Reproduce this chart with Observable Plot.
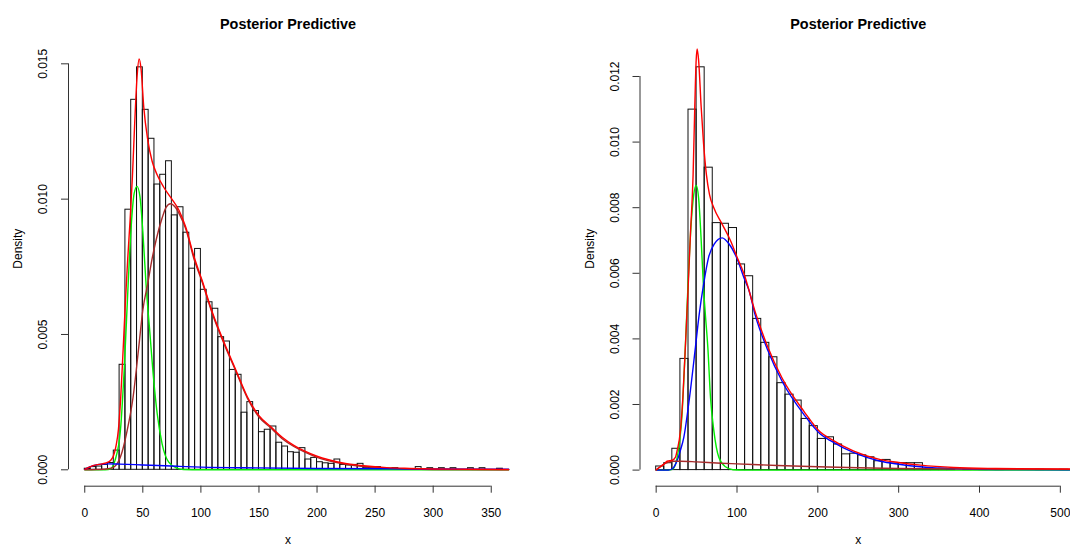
<!DOCTYPE html>
<html>
<head>
<meta charset="utf-8">
<script src="https://cdn.jsdelivr.net/npm/d3@7"></script>
<script src="https://cdn.jsdelivr.net/npm/@observablehq/plot@0.6"></script>
<style>
  html, body { margin: 0; padding: 0; background: #fff; }
  body { width: 1070px; height: 558px; overflow: hidden; display: flex; flex-direction: row; }
  svg { flex: none; }
</style>
</head>
<body>
<script>
// ---------- shared text ----------
const mainTitle = "Posterior Predictive";
const xLabel = "x";
const yLabel = "Density";

// ---------- left panel data ----------
const leftBinWidth = 5;
const leftDensity = [0.00004, 0.0001, 0.00012, 0.00018, 0.00025, 0.00071, 0.00388, 0.00961, 0.01367, 0.01487,
  0.01330, 0.01223, 0.01054, 0.01090, 0.01140, 0.00940, 0.00970, 0.00876, 0.00743, 0.00816,
  0.00665, 0.00619, 0.00595, 0.00490, 0.00474, 0.00369, 0.00351, 0.00211, 0.00250, 0.00217,
  0.00139, 0.00148, 0.00160, 0.00100, 0.00086, 0.00065, 0.00063, 0.00080, 0.00038, 0.00044,
  0.00028, 0.00024, 0.00022, 0.00038, 0.00018, 0.00016, 0.00018, 0.00022, 0.00006, 0.00006,
  0.0001, 0.00004, 0.00004, 0.00006, 0.00003, 0.00002, 0, 0.0001, 0.00002, 0.00006,
  0, 0.00006, 0, 0.00006, 0, 0, 0.00006, 0, 0.00006, 0, 0, 0.00004];
const leftXTicks = [0, 50, 100, 150, 200, 250, 300, 350];
const leftYTicks = [0, 0.005, 0.010, 0.015];

const leftGreenX = [0, 15, 20, 22, 26, 30.7, 34.2, 37.3, 40, 42.5, 45, 47.5, 50, 53, 56, 59.4, 62.3, 66.6, 72.3, 79.5, 85, 100, 365];
const leftGreenY = [0, 0, 0.00001, 0.00003, 0.00034, 0.00145, 0.0039, 0.0068, 0.0090, 0.0102, 0.01047, 0.0101, 0.0088, 0.0067, 0.0051, 0.0033, 0.0021, 0.00096, 0.00028, 0.00006, 0.00001, 0, 0];

const leftBrownX = [0, 10, 20, 25, 30.7, 36.5, 41.6, 46.5, 50, 54.3, 58, 61.5, 66.6, 70, 73.8, 78, 82, 87, 94, 101, 110, 120, 130, 140, 150, 160, 170, 180, 190, 200, 220, 240, 260, 300, 365];
const leftBrownY = [0, 0.00001, 0.00004, 0.0001, 0.00047, 0.00145, 0.00268, 0.00453, 0.0059, 0.0069, 0.0078, 0.0085, 0.0093, 0.0097, 0.00983, 0.0097, 0.0094, 0.0089, 0.0078, 0.00695, 0.00575, 0.00465, 0.00365, 0.00265, 0.00195, 0.00155, 0.00115, 0.00086, 0.00064, 0.00046, 0.00024, 0.00012, 0.00006, 0.00001, 0];

const leftBlueX = [0, 5, 10, 15, 20, 30, 50, 80, 100, 150, 200, 300, 365];
const leftBlueY = [0.00002, 0.00012, 0.00018, 0.00021, 0.00022, 0.00021, 0.00018, 0.00013, 0.0001, 0.00007, 0.00005, 0.00003, 0.00002];

const leftRedX = [0, 5, 10, 15, 20, 24, 27, 29, 31, 33, 35, 37, 39, 41, 43, 45, 46.8, 48.5, 50.8, 54.2, 58, 62.3, 68, 75, 81, 86.7, 93.9, 101,
  110, 120, 130, 140, 150, 160, 170, 180, 190, 200, 210, 220, 230, 240, 250, 260, 280, 300, 330, 365];
const leftRedY = [0.00002, 0.00012, 0.00018, 0.00022, 0.00028, 0.00045, 0.0009, 0.0015, 0.0027, 0.0044, 0.0062, 0.0078, 0.0092, 0.0108, 0.0128, 0.0145, 0.01518, 0.0148, 0.0134, 0.0122, 0.0114, 0.0109, 0.01044, 0.0100, 0.0096, 0.0090, 0.0079, 0.0070,
  0.0058, 0.0047, 0.0037, 0.0027, 0.0020, 0.0016, 0.0012, 0.0009, 0.00068, 0.0005, 0.00037, 0.00027, 0.0002, 0.00015, 0.00011, 0.00008, 0.00005, 0.00003, 0.00002, 0.00001];

// ---------- right panel data ----------
const rightBinWidth = 10;
const rightDensity = [0.00011, 0.00021, 0.00065, 0.00339, 0.01099, 0.01228, 0.00922, 0.00753, 0.00751, 0.00738,
  0.00627, 0.00591, 0.00461, 0.00388, 0.00344, 0.00265, 0.0023, 0.00212, 0.00156, 0.00134,
  0.00095, 0.001, 0.00078, 0.00048, 0.0005, 0.00045, 0.00039, 0.00027, 0.00031, 0.0002,
  0.00021, 0.00021, 0.00021, 0.00003, 0.00002, 0.00004, 0.00002, 0, 0.00002, 0,
  0.00003, 0, 0.00003, 0, 0, 0, 0, 0.00001, 0, 0, 0.00001];
const rightXTicks = [0, 100, 200, 300, 400, 500];
const rightYTicks = [0, 0.002, 0.004, 0.006, 0.008, 0.010, 0.012];

const rightGreenX = [0, 15, 20, 26, 32, 36, 39.5, 43, 46.5, 49.5, 52.5, 55.5, 58.5, 61, 63.9, 67.2, 71.3, 77.5, 85.7, 95, 110, 520];
const rightGreenY = [0, 0, 0.00002, 0.00039, 0.0017, 0.0037, 0.0057, 0.0074, 0.0084, 0.00868, 0.0083, 0.0071, 0.0056, 0.0047, 0.00375, 0.00222, 0.00121, 0.00039, 0.0001, 0.00001, 0, 0];

const rightBlueX = [0, 15, 20, 26, 30, 34.2, 41.2, 48.6, 53, 58.9, 65, 72, 81.6, 90, 99.3, 109.6, 114.6, 122.8, 137.3, 155.9, 182.6, 203, 215.6, 244.5, 277.5, 300, 327, 368, 420, 520];
const rightBlueY = [0, 0, 0.00004, 0.00029, 0.0006, 0.001, 0.0022, 0.00375, 0.0047, 0.0057, 0.0065, 0.0069, 0.00708, 0.0069, 0.00649, 0.0058, 0.0055, 0.0047, 0.0037, 0.0027, 0.0017, 0.0011, 0.0009, 0.00053, 0.00027, 0.00018, 0.0001, 0.00004, 0.00002, 0.00001];

const rightBrownX = [0, 5, 10, 15, 22, 30, 50, 80, 100, 150, 200, 250, 300, 400, 520];
const rightBrownY = [0, 0.0001, 0.00019, 0.00024, 0.00027, 0.00027, 0.00025, 0.00021, 0.00019, 0.00014, 0.0001, 0.00007, 0.00005, 0.00003, 0.00002];

const rightRedX = [0, 5, 10, 13.6, 20, 24, 26, 30, 33, 36.2, 39.6, 42.4, 45.7, 47.8, 49.5, 50.7, 52.5, 55.6, 58.5, 62.2, 66, 71.3, 81.6, 91.9, 100, 108.4,
  122.8, 137.3, 155.9, 182.6, 203, 215.6, 244.5, 277.5, 300, 327, 368, 420, 520];
const rightRedY = [0.00001, 0.0001, 0.00019, 0.00027, 0.0003, 0.0004, 0.0006, 0.0012, 0.0022, 0.0038, 0.0056, 0.0072, 0.0090, 0.0111, 0.0125, 0.01284, 0.0125, 0.0111, 0.0100, 0.0090, 0.0084, 0.0080, 0.0075, 0.0070, 0.0065, 0.0060,
  0.0048, 0.0038, 0.0028, 0.0018, 0.00116, 0.00095, 0.00058, 0.00032, 0.00023, 0.00015, 0.00008, 0.00005, 0.00003];

// ---------- colours ----------
const colGreen = "#00ee00";
const colBrown = "#a52a2a";
const colBlue = "#0000ff";
const colRed = "#ff0000";

const FONT = "'Liberation Sans', Arial, Helvetica, sans-serif";

function pts(xs, ys) { return xs.map((x, i) => ({x, y: ys[i]})); }
function bins(dens, w) { return dens.map((d, i) => ({x1: i * w, x2: (i + 1) * w, y: d})); }

function panel({width, marginLeft, marginRight, xDomain, yDomain, density, binWidth, xTicks, yTicks, curves}) {
  const lineMarks = curves.map(c => Plot.line(pts(c.xs, c.ys), {x: "x", y: "y", stroke: c.color, strokeWidth: 1.4, curve: "monotone-x"}));
  return Plot.plot({
    width, height: 558,
    marginLeft, marginRight, marginTop: 50.7, marginBottom: 72.3,
    style: {fontFamily: FONT, fontSize: "12px", color: "black", background: "white", overflow: "visible"},
    x: {domain: xDomain},
    y: {domain: yDomain},
    marks: [
      Plot.rectY(bins(density, binWidth), {x1: "x1", x2: "x2", y1: 0, y2: "y", fill: "none", stroke: "#111", strokeWidth: 1}),
      ...lineMarks,
      // x axis
      Plot.ruleY([yDomain[0]], {x1: xTicks[0], x2: xTicks[xTicks.length - 1], stroke: "#333"}),
      Plot.axisX(xTicks, {tickSize: 7, tickPadding: 15.3, fontSize: 12, label: null, tickFormat: d => String(d), stroke: "#333"}),
      // y axis
      Plot.ruleX([xDomain[0]], {y1: yTicks[0], y2: yTicks[yTicks.length - 1], stroke: "#333"}),
      Plot.axisY(yTicks, {tickSize: 7, label: null, tickFormat: () => "", stroke: "#333"}),
      Plot.text(yTicks, {x: xDomain[0], y: d => d, text: d => d.toFixed(3), rotate: -90, dx: -25, fontSize: 12, fill: "black"}),
      // titles
      Plot.text([mainTitle], {frameAnchor: "top", dy: -32.8, fontSize: 14.4, fontWeight: "bold", fill: "black"}),
      Plot.text([xLabel], {frameAnchor: "bottom", dy: 58, fontSize: 12, fill: "black"}),
      Plot.text([yLabel], {frameAnchor: "left", rotate: -90, dx: -50, fontSize: 12, fill: "black"})
    ]
  });
}

const left = panel({
  width: 535, marginLeft: 68, marginRight: 28,
  xDomain: [-14, 364], yDomain: [-0.000606, 0.015466],
  density: leftDensity, binWidth: leftBinWidth,
  xTicks: leftXTicks, yTicks: leftYTicks,
  curves: [
    {xs: leftGreenX, ys: leftGreenY, color: colGreen},
    {xs: leftBrownX, ys: leftBrownY, color: colBrown},
    {xs: leftBlueX, ys: leftBlueY, color: colBlue},
    {xs: leftRedX, ys: leftRedY, color: colRed}
  ]
});

const right = panel({
  width: 541, marginLeft: 104.5, marginRight: 0,
  xDomain: [-20, 520], yDomain: [-0.000491, 0.012771],
  density: rightDensity, binWidth: rightBinWidth,
  xTicks: rightXTicks, yTicks: rightYTicks,
  curves: [
    {xs: rightGreenX, ys: rightGreenY, color: colGreen},
    {xs: rightBlueX, ys: rightBlueY, color: colBlue},
    {xs: rightBrownX, ys: rightBrownY, color: colBrown},
    {xs: rightRedX, ys: rightRedY, color: colRed}
  ]
});

document.body.appendChild(left);
document.body.appendChild(right);
</script>
</body>
</html>
